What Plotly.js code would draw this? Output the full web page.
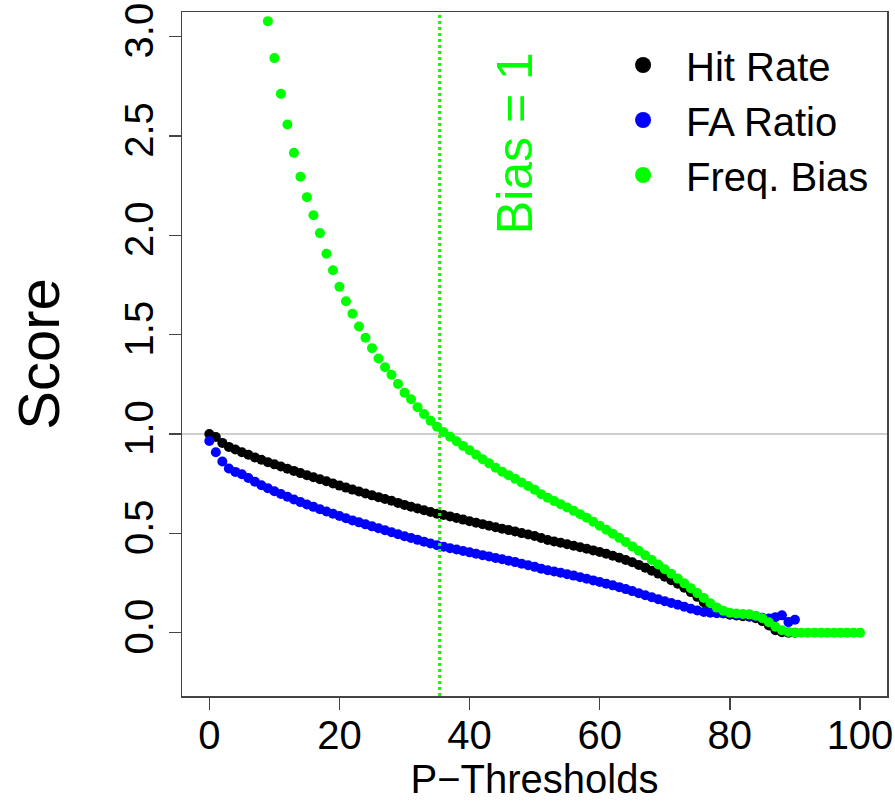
<!DOCTYPE html>
<html>
<head>
<meta charset="utf-8">
<script src="https://cdn.plot.ly/plotly-3.0.1.min.js"></script>
<style>html,body{margin:0;padding:0;background:#fff;}#chart{width:895px;height:802px;}</style>
</head>
<body>
<div id="chart"></div>
<script>
// ---- data ----
const hitX = [0,1,2,3,4,5,6,7,8,9,10,11,12,13,14,15,16,17,18,19,20,21,22,23,24,25,26,27,28,29,30,31,32,33,34,35,36,37,38,39,40,41,42,43,44,45,46,47,48,49,50,51,52,53,54,55,56,57,58,59,60,61,62,63,64,65,66,67,68,69,70,71,72,73,74,75,76,77,78,79,80,81,82,83,84,85,86,87,88,89,90];
const hitRate = [1.000,0.985,0.955,0.935,0.922,0.908,0.895,0.882,0.870,0.858,0.847,0.836,0.825,0.814,0.803,0.792,0.782,0.772,0.762,0.751,0.740,0.730,0.720,0.710,0.700,0.691,0.682,0.673,0.664,0.653,0.643,0.634,0.625,0.616,0.607,0.599,0.592,0.585,0.577,0.569,0.561,0.553,0.546,0.538,0.530,0.523,0.516,0.509,0.501,0.494,0.486,0.476,0.466,0.459,0.452,0.445,0.437,0.430,0.422,0.414,0.406,0.397,0.387,0.377,0.366,0.354,0.341,0.327,0.312,0.297,0.281,0.264,0.246,0.226,0.204,0.180,0.153,0.127,0.108,0.097,0.090,0.086,0.083,0.080,0.072,0.058,0.036,0.012,0.002,0.000,0.000];

const faX = [0,1,2,3,4,5,6,7,8,9,10,11,12,13,14,15,16,17,18,19,20,21,22,23,24,25,26,27,28,29,30,31,32,33,34,35,36,37,38,39,40,41,42,43,44,45,46,47,48,49,50,51,52,53,54,55,56,57,58,59,60,61,62,63,64,65,66,67,68,69,70,71,72,73,74,75,76,77,78,79,80,81,82,83,84,85,86,87,88,89,90];
const faRatio = [0.965,0.908,0.861,0.826,0.809,0.797,0.778,0.760,0.742,0.727,0.712,0.698,0.684,0.670,0.657,0.645,0.633,0.621,0.610,0.598,0.587,0.576,0.565,0.555,0.545,0.535,0.525,0.515,0.505,0.495,0.485,0.476,0.467,0.458,0.449,0.440,0.432,0.425,0.418,0.411,0.404,0.397,0.390,0.383,0.376,0.369,0.362,0.355,0.347,0.339,0.331,0.322,0.314,0.308,0.301,0.294,0.287,0.279,0.271,0.263,0.255,0.246,0.238,0.229,0.219,0.209,0.198,0.188,0.178,0.168,0.158,0.149,0.140,0.130,0.120,0.111,0.104,0.100,0.098,0.097,0.095,0.092,0.088,0.084,0.080,0.075,0.071,0.078,0.087,0.053,0.065];

const biasX = [9,10,11,12,13,14,15,16,17,18,19,20,21,22,23,24,25,26,27,28,29,30,31,32,33,34,35,36,37,38,39,40,41,42,43,44,45,46,47,48,49,50,51,52,53,54,55,56,57,58,59,60,61,62,63,64,65,66,67,68,69,70,71,72,73,74,75,76,77,78,79,80,81,82,83,84,85,86,87,88,89,90,91,92,93,94,95,96,97,98,99,100];
const freqBias = [3.078,2.892,2.712,2.558,2.415,2.295,2.192,2.101,2.011,1.907,1.824,1.741,1.668,1.605,1.541,1.484,1.432,1.380,1.336,1.298,1.252,1.208,1.175,1.135,1.100,1.066,1.036,1.010,0.986,0.963,0.940,0.918,0.895,0.873,0.852,0.830,0.810,0.792,0.774,0.756,0.738,0.719,0.697,0.679,0.662,0.646,0.630,0.613,0.596,0.578,0.558,0.538,0.518,0.498,0.477,0.456,0.434,0.412,0.389,0.366,0.343,0.319,0.296,0.272,0.248,0.224,0.199,0.174,0.148,0.126,0.110,0.100,0.096,0.094,0.092,0.085,0.072,0.052,0.030,0.012,0.003,0.000,0.000,0.000,0.000,0.000,0.000,0.000,0.000,0.000,0.000,0.000];

const biasOneX = 35.4;
const refLineY = 1;
const xTicks = [0,20,40,60,80,100];
const yTicks = [0,0.5,1,1.5,2,2.5,3];
const yTickText = ['0.0','0.5','1.0','1.5','2.0','2.5','3.0'];
const seriesNames = ['Hit Rate','FA Ratio','Freq. Bias'];
const seriesColors = ['#000000','#0000FF','#00FF00'];

const FONT = 'Liberation Sans, Arial, sans-serif';

const dataSets = [[hitX, hitRate],[faX, faRatio],[biasX, freqBias]];
const traces = [];
dataSets.forEach((d, i) => {
  traces.push({
    x: d[0], y: d[1], type: 'scatter', mode: 'markers',
    marker: {color: seriesColors[i], size: 10, line: {width: 0}},
    showlegend: false, hoverinfo: 'skip'
  });
});
// legend entries
seriesNames.forEach((n, i) => {
  traces.push({
    x: [null], y: [null], type: 'scatter', mode: 'markers', name: n,
    marker: {color: seriesColors[i], size: 18, line: {width: 0}},
    legendgroup: 'g' + i, showlegend: true
  });
});

const layout = {
  width: 895, height: 802,
  margin: {l: 182, r: 8, t: 12, b: 106},
  paper_bgcolor: '#ffffff', plot_bgcolor: '#ffffff',
  font: {family: FONT, color: '#000', size: 40},
  showlegend: true,
  legend: {
    x: 0.593, y: 0.97, xanchor: 'left', yanchor: 'top',
    bgcolor: 'rgba(0,0,0,0)', borderwidth: 0,
    font: {family: FONT, size: 40, color: '#000'},
    traceorder: 'grouped', tracegroupgap: 0, itemwidth: 76
  },
  xaxis: {
    range: [-4.2, 104.15], tickmode: 'array', tickvals: xTicks,
    ticks: 'outside', ticklen: 12, tickwidth: 1.5, tickcolor: '#444',
    ticklabelstandoff: -9,
    showline: true, linecolor: '#444', linewidth: 1.5, mirror: true,
    showgrid: false, zeroline: false,
    tickfont: {family: FONT, size: 40, color: '#000'},
    title: {text: 'P\u2212Thresholds', font: {family: FONT, size: 40, color: '#000'}, standoff: 4}
  },
  yaxis: {
    range: [-0.319, 3.124], tickmode: 'array', tickvals: yTicks, ticktext: yTickText,
    ticks: 'outside', ticklen: 12, tickwidth: 1.5, tickcolor: '#444', tickangle: -90,
    showline: true, linecolor: '#444', linewidth: 1.5, mirror: true,
    showgrid: false, zeroline: false,
    tickfont: {family: FONT, size: 40, color: '#000'},
    title: {text: 'Score', font: {family: FONT, size: 58, color: '#000'}, standoff: 38}
  },
  shapes: [
    {type: 'line', xref: 'paper', x0: 0, x1: 1, yref: 'y', y0: refLineY, y1: refLineY,
     line: {color: '#BEBEBE', width: 1.5}, layer: 'below'},
    {type: 'line', xref: 'x', x0: biasOneX, x1: biasOneX, yref: 'paper', y0: 0, y1: 1,
     line: {color: '#00FF00', width: 3, dash: 'dot'}, layer: 'above'}
  ],
  annotations: [
    {x: 46.9, y: 2.466, xref: 'x', yref: 'y', text: 'Bias = 1', showarrow: false,
     textangle: -90, font: {family: FONT, size: 50, color: '#00FF00'}}
  ]
};

Plotly.newPlot('chart', traces, layout, {staticPlot: true, displayModeBar: false});
</script>
</body>
</html>
